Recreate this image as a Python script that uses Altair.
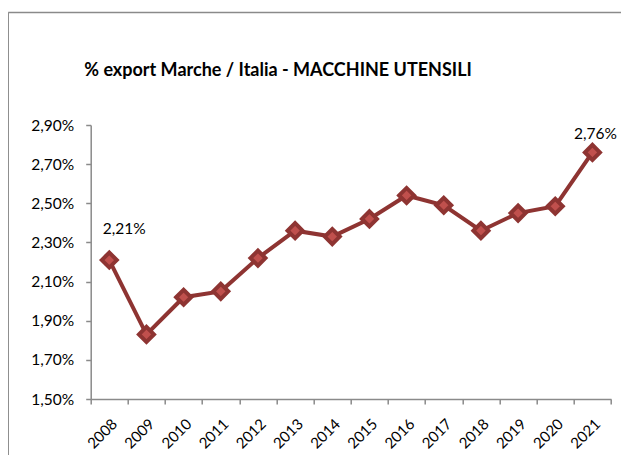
import altair as alt
import pandas as pd

years = ["2008", "2009", "2010", "2011", "2012", "2013", "2014",
         "2015", "2016", "2017", "2018", "2019", "2020", "2021"]
share = [2.21, 1.83, 2.02, 2.05, 2.22, 2.36, 2.33,
         2.42, 2.54, 2.49, 2.36, 2.45, 2.485, 2.76]
y_ticks = [1.5, 1.7, 1.9, 2.1, 2.3, 2.5, 2.7, 2.9]
labelled_years = ["2008", "2021"]
title_text = "% export Marche / Italia - MACCHINE UTENSILI"

df = pd.DataFrame({"year": years, "share": share})

FONT = "Lato"
LINE = "#8E3432"
FILL = "#C0504D"
GRAY = "#8A8A8A"

label_expr = "replace(format(datum.value, '.2f'), '.', ',') + '%'"

base = alt.Chart(df).transform_calculate(
    lab="replace(format(datum.share, '.2f'), '.', ',') + '%'"
)

x_enc = alt.X(
    "year:O",
    sort=years,
    scale=alt.Scale(type="band", paddingInner=0, paddingOuter=0),
    axis=alt.Axis(
        title=None, labelAngle=-45, tickBand="extent", tickSize=5,
        labelPadding=12, labelFont=FONT, labelFontSize=15, labelColor="#000000",
        domainColor=GRAY, tickColor=GRAY, domainWidth=1.5, tickWidth=1.5,
        grid=False, labelOverlap=False,
    ),
)
y_enc = alt.Y(
    "share:Q",
    scale=alt.Scale(domain=[1.5, 2.9], nice=False, zero=False),
    axis=alt.Axis(
        title=None, values=y_ticks, tickCount=len(y_ticks) + 2,
        labelExpr=label_expr, tickSize=5,
        labelPadding=12, labelFont=FONT, labelFontSize=15.5, labelColor="#000000",
        domainColor=GRAY, tickColor=GRAY, domainWidth=1.5, tickWidth=1.5,
        grid=False, labelOverlap=False,
    ),
)

line = base.mark_line(color=LINE, strokeWidth=4).encode(x=x_enc, y=y_enc)
pts = base.mark_point(
    shape="diamond", size=225, filled=True, fill=FILL, stroke=LINE,
    strokeWidth=4, opacity=1,
).encode(x=x_enc, y=y_enc)

lab_first = base.transform_filter(
    alt.datum.year == labelled_years[0]
).mark_text(font=FONT, fontSize=15.5, color="#000000", dx=15, dy=-31,
            align="center", baseline="middle").encode(
    x=alt.X("year:O", sort=years), y="share:Q", text="lab:N")
lab_last = base.transform_filter(
    alt.datum.year == labelled_years[1]
).mark_text(font=FONT, fontSize=15.5, color="#000000", dx=3, dy=-18,
            align="center", baseline="middle").encode(
    x=alt.X("year:O", sort=years), y="share:Q", text="lab:N")

frame_src = alt.Data(values=[{"k": 0}])
frame_left = alt.Chart(frame_src).mark_rule(color=GRAY, strokeWidth=1.5).encode(
    x=alt.value(-82.5), y=alt.value(-112.5), y2=alt.value(340))
frame_top = alt.Chart(frame_src).mark_rule(color=GRAY, strokeWidth=1.5).encode(
    y=alt.value(-112.5), x=alt.value(-82.5), x2=alt.value(540))

chart = alt.layer(frame_left, frame_top, line, pts, lab_first, lab_last).properties(
    width=520.3,
    height=274,
    title=alt.TitleParams(
        title_text, font=FONT, fontSize=18, fontWeight="bold", color="#000000",
        anchor="middle", dx=-72.8, offset=-68,
    ),
    autosize=alt.AutoSizeParams(type="none"),
    padding={"left": 82.7, "top": 117, "right": 10, "bottom": 56},
).configure_view(stroke=None)

chart.save("out.html", embed_options={"renderer": "svg", "actions": False})
